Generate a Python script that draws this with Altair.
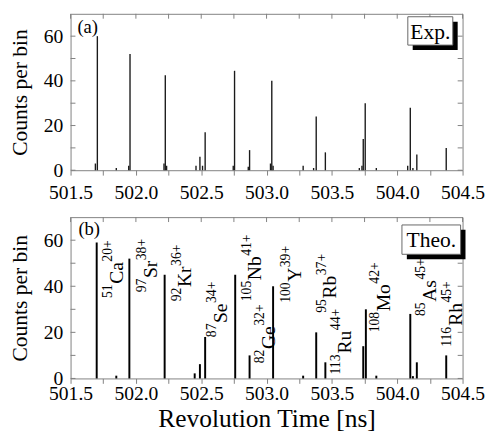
import altair as alt
import pandas as pd

# ---------------- data ----------------
# (a) experimental spectrum: peak centres [ns] and counts per bin
exp_t = [501.69, 501.705, 501.85, 501.945, 501.955, 502.215, 502.225, 502.235,
         502.46, 502.49, 502.51, 502.53, 502.745, 502.755, 502.86, 502.87,
         503.03, 503.04, 503.05, 503.28, 503.36, 503.38, 503.45,
         503.71, 503.73, 503.74, 503.755, 503.84, 504.08, 504.10, 504.12,
         504.15, 504.375]
exp_h = [3, 60, 1, 2, 52, 3, 42.5, 2,
         2, 6, 2, 17, 2, 44.5, 1.5, 9,
         3, 40, 2, 2, 1, 24, 8,
         1, 2, 14, 30, 1, 2, 28, 1,
         7, 10]

# (b) theoretical spectrum
theo_t = [501.70, 501.85, 501.95, 502.22, 502.45, 502.49, 502.53, 502.76,
          502.87, 503.05, 503.28, 503.38, 503.45, 503.74, 503.76, 503.84,
          504.10, 504.12, 504.15, 504.375]
theo_h = [59, 1.2, 52, 45, 2.2, 6.2, 18, 45,
          10, 40, 1.2, 20, 7, 14, 30, 1.2,
          28, 1, 7, 10]

# ion labels of panel (b)
ion_mass = ["51", "97", "92", "87", "105", "82", "100", "95", "113", "108", "85", "116"]
ion_elem = ["Ca", "Sr", "Kr", "Se", "Nb", "Ge", "Y", "Rb", "Ru", "Mo", "As", "Rh"]
ion_charge = ["20+", "38+", "36+", "34+", "41+", "32+", "39+", "37+", "44+", "42+", "45+", "45+"]
label_t = [501.902, 502.163, 502.425, 502.699, 502.961, 503.061,
           503.260, 503.535, 503.647, 503.946, 504.296, 504.495]
label_y = [34.9, 37.4, 33.5, 17.9, 33.5, 6.6, 32.8, 28.5, 1.7, 20.0, 27.1, 13.7]

x_tick_values = [501.5, 501.75, 502.0, 502.25, 502.5, 502.75, 503.0, 503.25,
                 503.5, 503.75, 504.0, 504.25, 504.5]
y_tick_values = [0, 10, 20, 30, 40, 50, 60]
y_label_values = [0, 20, 40, 60]

# ---------------- style ----------------
FONT = "Liberation Serif"
GREY = "#808080"
W = 401
H_TOP, H_BOT = 160, 165
YMAX = 70
FS_EL, FS_SUP = 20, 14
SUP_RAISE = -11

xs = alt.Scale(domain=[501.5, 504.5], nice=False, zero=False)
ys = alt.Scale(domain=[0, YMAX], nice=False)

# approximate Times advance widths (em)
CW = {"C": .667, "a": .444, "S": .556, "r": .333, "K": .722, "e": .444,
      "N": .722, "b": .5, "G": .722, "Y": .722, "R": .667, "u": .5,
      "M": .889, "o": .5, "A": .722, "s": .389, "h": .5, "+": .564}


def tw(s, fs):
    return sum(CW.get(c, 0.5) for c in s) * fs


def x_axis(label_padding, title):
    kw = dict(values=x_tick_values,
              labelExpr="(datum.value*2)%1==0 ? format(datum.value,'.1f') : ''",
              tickSize=5, tickColor=GREY, tickWidth=1, domain=False, grid=False,
              labelFont=FONT, labelFontSize=20, labelColor="black",
              labelPadding=label_padding, labelOverlap=False, labelFlush=False,
              labelBound=False)
    if title:
        kw.update(title=title, titleFont=FONT, titleFontSize=26,
                  titleFontWeight="normal", titleColor="black",
                  titleBaseline="alphabetic", titleY=49)
    else:
        kw.update(title=None)
    return alt.Axis(**kw)


Y_AXIS = alt.Axis(values=y_label_values, ticks=False, domain=False, grid=False,
                  labelFont=FONT, labelFontSize=20, labelColor="black",
                  labelPadding=8, labelFlush=False,
                  title="Counts per bin", titleFont=FONT, titleFontSize=22,
                  titleFontWeight="normal", titleColor="black", titlePadding=12)


def frame_ticks(xa, h):
    xt = pd.DataFrame({"t": x_tick_values})
    yt = pd.DataFrame({"v": y_tick_values})
    top = alt.Chart(xt).mark_rule(color=GREY, strokeWidth=1).encode(
        x=alt.X("t:Q", scale=xs, axis=xa), y=alt.value(0), y2=alt.value(5))
    left = alt.Chart(yt).mark_rule(color=GREY, strokeWidth=1).encode(
        y=alt.Y("v:Q", scale=ys, axis=Y_AXIS), x=alt.value(0), x2=alt.value(5))
    right = alt.Chart(yt).mark_rule(color=GREY, strokeWidth=1).encode(
        y=alt.Y("v:Q", scale=ys, axis=Y_AXIS), x=alt.value(W), x2=alt.value(W - 5))
    return [top, left, right]


def tag_box(text, x0, x1, y0, y1, off=5):
    d = pd.DataFrame({"s": [text]})
    shadow = alt.Chart(d).mark_rect(color="black").encode(
        x=alt.value(x0 + off), x2=alt.value(x1 + off),
        y=alt.value(y0 + off), y2=alt.value(y1 + off))
    box = alt.Chart(d).mark_rect(fill="white", stroke="#666666", strokeWidth=1).encode(
        x=alt.value(x0), x2=alt.value(x1), y=alt.value(y0), y2=alt.value(y1))
    txt = alt.Chart(d).mark_text(font=FONT, fontSize=22, align="center",
                                 baseline="middle", color="black").encode(
        x=alt.value((x0 + x1) / 2), y=alt.value((y0 + y1) / 2 + 1), text="s:N")
    return [shadow, box, txt]


def panel_letter(text, x, y):
    d = pd.DataFrame({"s": [text]})
    return alt.Chart(d).mark_text(font=FONT, fontSize=19, align="left",
                                  baseline="alphabetic", color="black").encode(
        x=alt.value(x), y=alt.value(y), text="s:N")


# ---------------- panel (a) ----------------
XA_TOP = x_axis(8, None)
exp_df = pd.DataFrame({"t": exp_t, "h": exp_h})
exp_peaks = alt.Chart(exp_df).mark_rule(color="#1a1a1a", strokeWidth=1.4).encode(
    x=alt.X("t:Q", scale=xs, axis=XA_TOP),
    y=alt.Y("h:Q", scale=ys, axis=Y_AXIS),
    y2=alt.datum(0))

top = alt.layer(
    exp_peaks, *frame_ticks(XA_TOP, H_TOP), panel_letter("(a)", 7, 20),
    *tag_box("Exp.", 345, 391, 3, 32)
).properties(width=W, height=H_TOP)

# ---------------- panel (b) ----------------
XA_BOT = x_axis(1, "Revolution Time [ns]")
theo_df = pd.DataFrame({"t": theo_t, "h": theo_h})
theo_peaks = alt.Chart(theo_df).mark_rule(color="black", strokeWidth=2).encode(
    x=alt.X("t:Q", scale=xs, axis=XA_BOT),
    y=alt.Y("h:Q", scale=ys, axis=Y_AXIS),
    y2=alt.datum(0))

ppu = H_BOT / YMAX
sup_rows, el_rows = [], []
for m, e, c, t, y in zip(ion_mass, ion_elem, ion_charge, label_t, label_y):
    mw = tw(m, FS_SUP)
    ew = tw(e, FS_EL)
    sup_rows.append({"t": t, "y": y, "s": m})
    el_rows.append({"t": t, "y": y + (mw + 0.5) / ppu, "s": e})
    sup_rows.append({"t": t, "y": y + (mw + ew + 1) / ppu, "s": c})

sup_layer = alt.Chart(pd.DataFrame(sup_rows)).mark_text(
    font=FONT, fontSize=FS_SUP, angle=270, align="left", baseline="alphabetic",
    dy=SUP_RAISE, color="black").encode(
    x=alt.X("t:Q", scale=xs, axis=XA_BOT), y=alt.Y("y:Q", scale=ys, axis=Y_AXIS), text="s:N")
el_layer = alt.Chart(pd.DataFrame(el_rows)).mark_text(
    font=FONT, fontSize=FS_EL, angle=270, align="left", baseline="alphabetic",
    color="black").encode(
    x=alt.X("t:Q", scale=xs, axis=XA_BOT), y=alt.Y("y:Q", scale=ys, axis=Y_AXIS), text="s:N")

bottom = alt.layer(
    theo_peaks, *frame_ticks(XA_BOT, H_BOT), sup_layer, el_layer, panel_letter("(b)", 8, 18),
    *tag_box("Theo.", 339, 399, 8, 38)
).properties(width=W, height=H_BOT)

chart = alt.vconcat(top, bottom, spacing=13).properties(
    padding={"left": 0, "top": 0, "right": 2, "bottom": 2}
).configure(font=FONT).configure_axis(
    labelFont=FONT, titleFont=FONT, labelFontSize=20, labelColor="black",
    titleColor="black", titleFontWeight="normal"
).configure_view(stroke=GREY, strokeWidth=1)

chart.save("out.html", embed_options={"renderer": "svg", "actions": False})
